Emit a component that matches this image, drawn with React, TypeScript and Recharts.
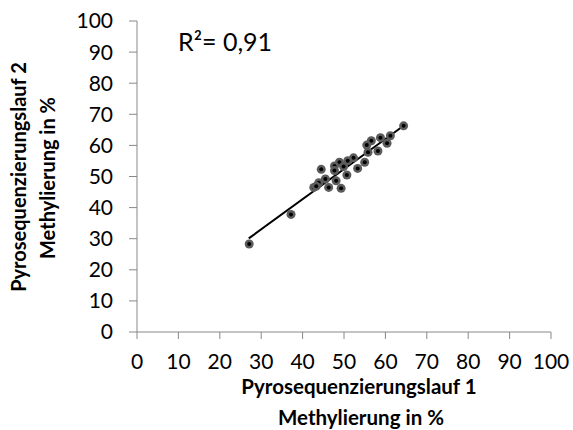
import type { ReactElement } from 'react'
import { ScatterChart, Scatter, XAxis, YAxis } from 'recharts'

const xValues = [64.4, 61.2, 58.8, 56.6, 55.5, 60.4, 58.2, 55.8, 55.0, 52.3, 50.9, 48.9, 47.7, 47.7, 49.9, 53.3, 50.7, 44.5, 45.5, 43.9, 42.7, 43.3, 46.3, 48.1, 49.3, 37.2, 27.1]
const yValues = [66.3, 63.1, 62.5, 61.5, 60.1, 60.7, 58.2, 57.8, 54.6, 56.0, 55.1, 54.6, 53.4, 51.9, 53.2, 52.6, 50.5, 52.3, 49.2, 48.0, 46.5, 46.9, 46.5, 48.6, 46.2, 37.8, 28.3]
const trendX = [27, 64.4]
const trendY = [30.1, 66.3]
const axisTicks = [0, 10, 20, 30, 40, 50, 60, 70, 80, 90, 100]

const points = xValues.map((x, i) => ({ x, y: yValues[i] }))
const trend = trendX.map((x, i) => ({ x, y: trendY[i] }))

const font = 'Lato, "Liberation Sans", sans-serif'
const tickStyle = { fill: '#000', fontSize: 21, fontFamily: font }

function Dot(props: any): ReactElement {
  const { cx, cy } = props
  return (
    <g>
      <circle cx={cx} cy={cy} r={4.5} fill="#5c5c5c" />
      <circle cx={cx} cy={cy} r={2} fill="#000" />
    </g>
  )
}

export default function App(): ReactElement {
  return (
    <div style={{ position: 'absolute', left: 0, top: 0, background: '#fff' }}>
      <ScatterChart width={573} height={430} margin={{ top: 21, right: 22, bottom: 68, left: 77 }}>
        <XAxis
          type="number"
          dataKey="x"
          domain={[0, 100]}
          ticks={axisTicks}
          interval={0}
          height={30}
          stroke="#888"
          tickSize={7}
          tickMargin={15}
          tick={tickStyle}
        />
        <YAxis
          type="number"
          dataKey="y"
          domain={[0, 100]}
          ticks={axisTicks}
          interval={0}
          width={60}
          stroke="#888"
          tickSize={8}
          tickMargin={16}
          tick={tickStyle}
        />
        <Scatter data={trend} line={{ stroke: '#000', strokeWidth: 2 }} shape={() => <g />} isAnimationActive={false} />
        <Scatter data={points} shape={Dot} isAnimationActive={false} />
        <text x={178} y={51} fontSize={25} fontFamily={font} fill="#000">R²= 0,91</text>
        <text x={359} y={394} textAnchor="middle" fontSize={20.5} fontWeight="bold" fontFamily={font} fill="#000">
          Pyrosequenzierungslauf 1
        </text>
        <text x={361} y={425} textAnchor="middle" fontSize={20.5} fontWeight="bold" fontFamily={font} fill="#000">
          Methylierung in %
        </text>
        <text
          x={0}
          y={0}
          transform="translate(26 177) rotate(-90)"
          textAnchor="middle"
          fontSize={20}
          fontWeight="bold"
          fontFamily={font}
          fill="#000"
        >
          Pyrosequenzierungslauf 2
        </text>
        <text
          x={0}
          y={0}
          transform="translate(55 178) rotate(-90)"
          textAnchor="middle"
          fontSize={20}
          fontWeight="bold"
          fontFamily={font}
          fill="#000"
        >
          Methylierung in %
        </text>
      </ScatterChart>
    </div>
  )
}
